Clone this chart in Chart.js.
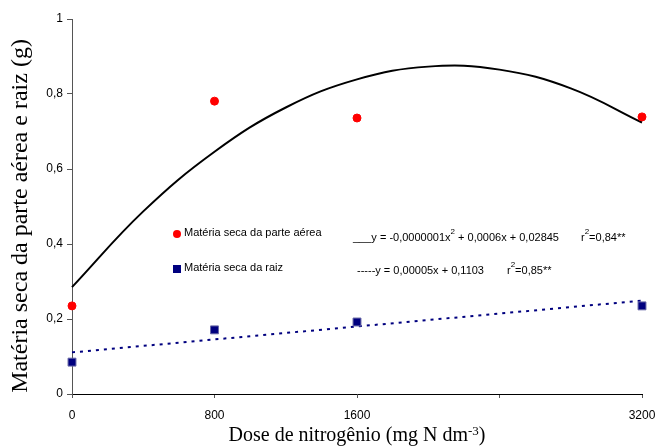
<!DOCTYPE html>
<html><head><meta charset="utf-8">
<script src="https://cdn.jsdelivr.net/npm/chart.js@4/dist/chart.umd.min.js"></script>
<style>html,body{margin:0;padding:0;background:#fff}#wrap{width:658px;height:448px}</style>
</head><body><div id="wrap"><canvas id="c" width="658" height="448"></canvas></div>
<script>
const doses = [0, 800, 1600, 3200];
const aerea = [0.235, 0.781, 0.736, 0.739];
const raiz = [0.085, 0.171, 0.192, 0.235];
// fitted curve
const curveX = [0, 400, 800, 1200, 1600, 2000, 2400, 2800, 3200];
const curveY = [0.285, 0.487, 0.646, 0.764, 0.839, 0.873, 0.865, 0.815, 0.724];
const lineX = [0, 3200];
const lineY = [0.111, 0.249];
const xTickLabels = {0:'0', 800:'800', 1600:'1600', 2400:'', 3200:'3200'};
const legendNames = ['Matéria seca da parte aérea', 'Matéria seca da raiz'];
const eq1 = ['___y = -0,0000001x', '2', ' + 0,0006x + 0,02845'];
const eq2 = ['-----y = 0,00005x + 0,1103'];
const r2 = ['0,84**', '0,85**'];
const xTitle = ['Dose de nitrogênio (mg N dm', '-3', ')'];
const yTitle = 'Matéria seca da parte aérea e raiz (g)';

const toPts = (xs, ys) => xs.map((x, i) => ({x, y: ys[i]}));

function drawSup(ctx, x, y, parts, font, supFont) {
  let cx = x;
  parts.forEach((p, i) => {
    const sup = i % 2 === 1;
    ctx.font = sup ? supFont : font;
    ctx.fillText(p, cx, sup ? y - 6 : y);
    cx += ctx.measureText(p).width;
  });
  return cx;
}
function widthSup(ctx, parts, font, supFont) {
  let w = 0;
  parts.forEach((p, i) => { ctx.font = (i % 2 === 1) ? supFont : font; w += ctx.measureText(p).width; });
  return w;
}

const annot = {
  id: 'annot',
  afterDraw(chart) {
    const ctx = chart.ctx;
    ctx.save();
    ctx.textBaseline = 'middle';
    ctx.fillStyle = '#ff0000';
    ctx.beginPath(); ctx.arc(177, 234, 4, 0, Math.PI * 2); ctx.fill();
    ctx.fillStyle = '#00007f';
    ctx.fillRect(173, 265, 8, 8);
    ctx.fillStyle = '#000';
    const f = '11px "Liberation Sans", Arial, sans-serif';
    const fs = '8px "Liberation Sans", Arial, sans-serif';
    ctx.font = f;
    ctx.fillText(legendNames[0], 184, 233);
    ctx.fillText(legendNames[1], 184, 268);
    drawSup(ctx, 353, 238, eq1, f, fs);
    drawSup(ctx, 581, 238, ['r', '2', '=' + r2[0]], f, fs);
    drawSup(ctx, 357, 271, eq2, f, fs);
    drawSup(ctx, 507, 271, ['r', '2', '=' + r2[1]], f, fs);
    // x title
    const tf = '20px "Liberation Serif", "Times New Roman", serif';
    const tfs = '13px "Liberation Serif", "Times New Roman", serif';
    ctx.textBaseline = 'alphabetic';
    const w = widthSup(ctx, xTitle, tf, tfs);
    drawSup(ctx, 357 - w / 2, 441, xTitle, tf, tfs);
    // y title
    ctx.translate(21, 216);
    ctx.rotate(-Math.PI / 2);
    ctx.font = '24px "Liberation Serif", "Times New Roman", serif';
    ctx.textAlign = 'center';
    ctx.textBaseline = 'middle';
    ctx.fillText(yTitle, 0, 0);
    ctx.restore();
  }
};

new Chart(document.getElementById('c'), {
  type: 'scatter',
  data: {
    datasets: [
      {label: legendNames[0], data: toPts(doses, aerea), backgroundColor: '#ff0000', borderColor: '#ff0000', pointStyle: 'circle', pointRadius: 4, clip: false, order: 1},
      {label: legendNames[1], data: toPts(doses, raiz), backgroundColor: '#00007f', borderColor: '#6a6aa8', borderWidth: 1, pointStyle: 'rect', pointRadius: 5.6, clip: false, order: 1},
      {label: 'quad', data: toPts(curveX, curveY), showLine: true, borderColor: '#000', borderWidth: 2, pointRadius: 0, tension: 0.4, clip: false, order: 2},
      {label: 'lin', data: toPts(lineX, lineY), showLine: true, borderColor: '#00007f', borderWidth: 2, borderDash: [3, 5], pointRadius: 0, clip: false, order: 2}
    ]
  },
  options: {
    responsive: false,
    animation: false,
    layout: {padding: {top: 19, right: 16, left: 0, bottom: 0}},
    plugins: {legend: {display: false}, tooltip: {enabled: false}},
    scales: {
      x: {
        type: 'linear', min: 0, max: 3200,
        afterFit: s => { s.height = 54; s.paddingLeft = 0; s.paddingRight = 0; },
        grid: {drawOnChartArea: false, tickLength: 4, tickColor: '#555'},
        border: {color: '#000', width: 1},
        ticks: {stepSize: 800, color: '#000', padding: 10, maxRotation: 0,
          font: {family: '"Liberation Sans", Arial, sans-serif', size: 12},
          callback: v => xTickLabels[v] !== undefined ? xTickLabels[v] : ''}
      },
      y: {
        min: 0, max: 1,
        afterFit: s => { s.width = 72; s.paddingTop = 0; s.paddingBottom = 0; },
        grid: {drawOnChartArea: false, tickLength: 5, tickColor: '#555'},
        border: {color: '#555', width: 1},
        ticks: {stepSize: 0.2, color: '#000', padding: 4,
          font: {family: '"Liberation Sans", Arial, sans-serif', size: 12},
          callback: v => v === 0 || v === 1 ? String(v) : v.toFixed(1).replace('.', ',')}
      }
    }
  },
  plugins: [annot]
});
</script>
</body></html>
